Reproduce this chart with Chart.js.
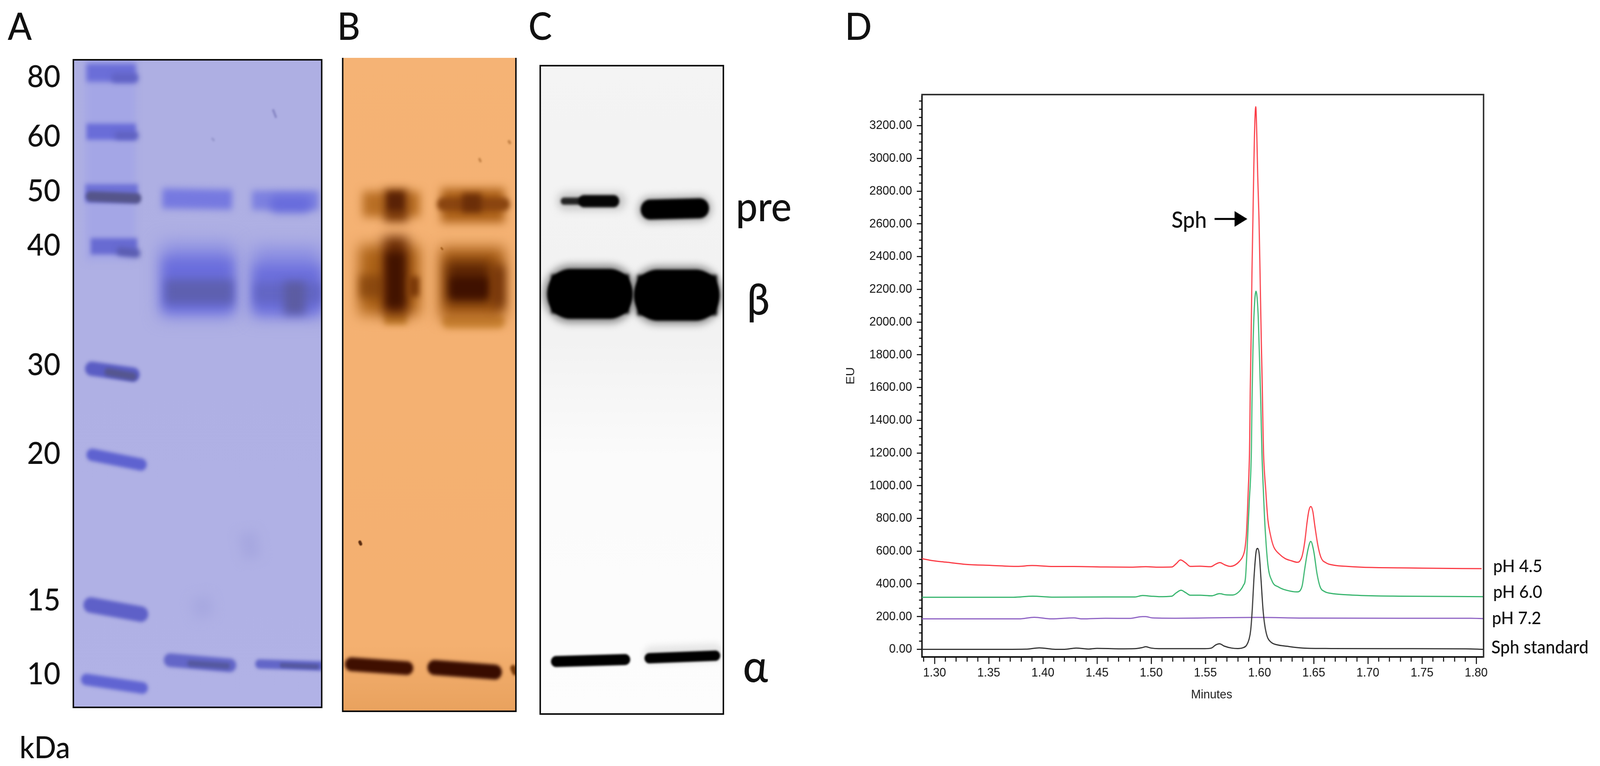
<!DOCTYPE html>
<html>
<head>
<meta charset="utf-8">
<script src="https://cdn.jsdelivr.net/npm/chart.js@4"></script>
<style>
  html, body { margin: 0; padding: 0; background: #fff; overflow: hidden; }
  #page { position: relative; width: 4342px; height: 1960px; overflow: hidden; background: #fff; transform-origin: 0 0; }
  canvas { position: absolute; }
  .t { position: absolute; line-height: 1; white-space: nowrap; color: #111; font-family: Lato, sans-serif; font-weight: 500; transform: translateY(-50%); }
  .big { font-size: 96px; }
  .mw { font-size: 78px; }
  .ph { font-size: 45px; }
</style>
</head>
<body>
<div id="page">
  <canvas id="gelA" style="left:0;top:0" width="900" height="1960"></canvas>
  <canvas id="gelB" style="left:926px;top:148px" width="478" height="1676"></canvas>
  <canvas id="gelC" style="left:1462px;top:164px" width="505" height="1667"></canvas>
  <canvas id="trace" style="left:2200px;top:0" width="2142" height="1960"></canvas>

  <div class="t big" style="left:21px;top:65px">A</div>
  <div class="t big" style="left:915px;top:65px">B</div>
  <div class="t big" style="left:1434px;top:65px">C</div>
  <div class="t big" style="left:2293px;top:65px">D</div>
  <div class="t mw" style="left:53px;top:1910px">kDa</div>
  <div class="t" style="left:1997px;top:525px;font-size:105px">pre</div>
  <div class="t" style="left:2027px;top:762px;font-size:110px">β</div>
  <div class="t" style="left:2016px;top:1700px;font-size:115px">α</div>
  <div class="t" style="left:3179px;top:561px;font-size:58px">Sph</div>
  <div class="t ph" style="left:4052px;top:1447px">pH 4.5</div>
  <div class="t ph" style="left:4052px;top:1513px">pH 6.0</div>
  <div class="t ph" style="left:4049px;top:1580px">pH 7.2</div>
  <div class="t ph" style="left:4047px;top:1655px;font-size:46px">Sph standard</div>
  <div class="t" style="left:3232px;top:1776px;font:32px 'Liberation Sans';color:#222">Minutes</div>
</div>

<script>
// the window can come up narrower than the picture, squeeze the page so nothing is cut off
const page = document.getElementById('page');
if (window.innerWidth < 4342) page.style.transform = 'scaleX(' + window.innerWidth / 4342 + ')';

// D - chromatogram
const ph45Minutes = [1.2884,1.298,1.3104,1.3295,1.352,1.3764,1.39,1.4094,1.4285,1.458,1.48,1.495,1.507,1.519,1.523,1.527,1.5316,1.536,1.545,1.555,1.5596,1.5634,1.5677,1.573,1.5776,1.5813,1.5846,1.5866,1.588,1.5896,1.5907,1.591,1.5914,1.5922,1.593,1.5939,1.5946,1.5953,1.5965,1.5975,1.5983,1.5995,1.6005,1.6016,1.6026,1.6032,1.6037,1.6057,1.6077,1.61,1.613,1.6183,1.6236,1.6296,1.6349,1.637,1.6394,1.6417,1.644,1.6455,1.6473,1.6492,1.651,1.6538,1.6568,1.6613,1.6688,1.681,1.7036,1.729,1.75,1.805];
const ph45EU = [554,542,533,519,513,507,512,506,506,503,502,505,502,503,523,546,529,507,508,505,521,530,517,507,516,537,569,619,720,975,1197,1341,1580,1898,2296,2630,2893,3132,3316,3132,2893,2630,2296,1898,1580,1341,1197,975,792,701,628,582,555,541,532,538,573,655,783,847,873,843,756,637,560,529,514,507,500,498,496,493];

const ph60Minutes = [1.2884,1.373,1.3906,1.41,1.458,1.485,1.492,1.4997,1.507,1.519,1.523,1.5276,1.5317,1.536,1.545,1.5556,1.563,1.569,1.5752,1.5813,1.585,1.587,1.5885,1.5905,1.5925,1.593,1.5939,1.595,1.5967,1.5986,1.5998,1.6012,1.6017,1.6024,1.6035,1.6047,1.6077,1.6115,1.6175,1.625,1.6349,1.6371,1.6394,1.6417,1.6447,1.6473,1.65,1.653,1.656,1.6598,1.6659,1.681,1.7036,1.729,1.8068];
const ph60EU = [318,318,325,319,320,320,329,325,322,325,345,361,347,331,331,327,340,333,332,354,390,436,610,900,1230,1500,1818,2058,2189,2058,1818,1500,1341,1158,975,792,518,418,381,361,351,356,390,491,610,660,601,464,381,354,342,333,327,325,322];

const ph72Minutes = [1.2884,1.378,1.392,1.408,1.4286,1.436,1.458,1.48,1.492,1.495,1.501,1.522,1.5526,1.598,1.643,1.729,1.795,1.8068];
const ph72EU = [186,186,196,186,192,186,190,189,200,200,192,190,192,195,191,190,190,188];

const standardMinutes = [1.2884,1.366,1.384,1.3967,1.4115,1.42,1.4306,1.4428,1.45,1.47,1.485,1.492,1.495,1.4997,1.507,1.5495,1.5556,1.5596,1.563,1.5677,1.574,1.58,1.5844,1.588,1.5903,1.5918,1.5933,1.5948,1.5967,1.5982,1.5997,1.6012,1.6032,1.6047,1.607,1.6107,1.616,1.625,1.64,1.666,1.729,1.79,1.8068];
const standardEU = [0,0,1,9,0,0,8,2,6,3,4,11,16,8,4,4,8,27,34,19,8,5,9,25,61,116,244,427,591,617,582,445,244,153,80,43,28,19,8,5,4,3,0];

const euTicks = [0,200,400,600,800,1000,1200,1400,1600,1800,2000,2200,2400,2600,2800,3000,3200];
const minuteTicks = [1.30,1.35,1.40,1.45,1.50,1.55,1.60,1.65,1.70,1.75,1.80];

const arrowMinutes = [1.5585,1.5809];
const arrowEU = [2630,2630];

// A-C - gels. band = [x start, y start, x end, y end, thickness], all in % of gel width / length
const kdaLabels = ['80','60','50','40','30','20','15','10'];
const kdaPositions = [2.7,11.9,20.3,28.7,47.2,60.9,83.5,94.9];

const gelABands = [
  [15,0,15,31,8.1],
  [5.3,2,25.2,2,2.8],
  [17,2.8,24.5,2.8,1.4],
  [5.3,11.1,25.2,11.1,2.5],
  [18,11.7,25,11.7,1.1],
  [4.8,20.6,26,20.6,2.8],
  [7,21.1,25.4,21.4,1.6],
  [7,28.8,25.7,28.8,2.5],
  [19,29.6,25.4,29.9,1.3],
  [7.4,47.7,24,48.6,2.2],
  [14,48.2,24,48.9,1.2],
  [7.6,61,27.2,62.5,1.9],
  [7,84.2,27.2,85.6,2.4],
  [5.3,95.7,27.8,97,1.8],
  [35.8,21.4,63.9,21.6,3.1],
  [71.9,21.7,98.7,21.7,3],
  [82,22.3,93,22.3,2.4],
  [35.1,34,64.9,34,11.1],
  [36,34.8,64.4,34.8,8.3],
  [37,35.8,64.4,35.8,3.8],
  [71.9,34.3,100,34.3,10.5],
  [72.5,35.5,100,35.5,7.5],
  [73,36,100,36,3.2],
  [84.8,36.8,93.4,36.8,5],
  [39,92.7,63,93.5,2.1],
  [47,93.2,62,93.6,0.9],
  [75,93.3,99.8,93.6,1.45],
  [84,93.5,98,93.7,0.7],
  [70,73,72,77,3],
  [51,83,53,86,3.2],
  [80.5,7.8,81.5,8.8,0.4],
  [56,12.2,56.5,12.4,0.4]
];
const gelAShades = ['#a4a6e6','#6b6ed8','#6163c4','#6a6dd8','#5f61bf','#6d70d6','#55558a','#686bd2','#5a5cb0','#5a5dc4','#55568f','#5e62d0','#5e60c8','#6064d2','#7679e0','#7d81e0','#676bdc','#8689e2','#6a6ddc','#5e60b0','#8689e2','#6c6fdc','#6366c4','#5c5ca2','#6366c8','#54589e','#6266c8','#55589f','#a7a8e0','#a7a8e0','#8c8cc8','#9a9bd0'];
const gelABlurs = [10,7,7,6,7,6,5,6,7,5,5,5,5,5,9,9,12,24,16,12,24,16,12,12,5,4,4,3,14,16,2,2];

const gelBBands = [
  [11.5,22.4,44.6,22.4,3.9],
  [24,22.6,37.5,22.6,4.9],
  [26,22,35,22,2.6],
  [56.8,22.6,93.5,22.6,5.2],
  [58,22.4,93,22.4,2],
  [69,22.2,80,22.2,2.8],
  [24,39.6,37,39.6,2.4],
  [61,40.4,90,40.4,2],
  [9.4,34,44.6,34,10.6],
  [10,35,24,35,3.5],
  [23.5,33.4,37.5,33.4,12],
  [25,34,35.5,34,8.5],
  [38,35,44,35,3],
  [56,34.5,93.5,34.5,11],
  [59.7,34.4,85.6,34.4,6.4],
  [62,35.2,84,35.2,3.2],
  [87,35,93.3,35,6.6],
  [5,92.8,37,93.4,2.1],
  [53,93.3,87.8,94,2.3],
  [98.5,93.4,99.5,94,1],
  [9.9,74.1,10.4,74.4,0.5],
  [79,15.5,79.5,15.8,0.4],
  [96,12.8,96.5,13,0.45],
  [57,29.1,57.6,29.3,0.3]
];
const gelBShades = ['#b96f25','#7a3a0c','#5a2206','#ab6018','#8a4510','#6b2e08','#c8822f','#d08a3a','#ad6318','#8c4a10','#6a2c06','#421300','#7a3808','#a65c15','#5a2404','#3f1100','#6a2c06','#3f0f00','#380c00','#7a3a08','#5a2c10','#c8864a','#c8864a','#a8621f'];
const gelBBlurs = [12,12,8,12,7,9,8,8,18,12,16,11,8,18,16,10,14,4,4,3,1,2,2,1];

const gelCBands = [
  [14,20.9,42,20.9,2.8],
  [13,20.9,22,20.9,1.1],
  [24,20.9,40,20.9,1.9],
  [60,22.2,87,22,4.2],
  [60,22.2,87,22,3.1],
  [16.6,35.2,37.7,35.2,9],
  [64.3,35.4,84.7,35.4,9],
  [16.6,35.2,37.7,35.2,7.7],
  [64.3,35.4,84.7,35.4,7.9],
  [6,35.2,48.5,35.2,6],
  [53,35.4,96.5,35.4,6.2],
  [61,90.9,95,90.5,2.8],
  [8.7,91.9,46.3,91.6,1.7],
  [59.6,91.4,95.6,91,1.6]
];
const gelCShades = ['#c8c8c8','#222222','#050505','#b8b8b8','#000000','#8a8a8a','#8a8a8a','#000000','#000000','#000000','#000000','#e6e6e6','#000000','#000000'];
const gelCBlurs = [10,3,3,9,3,10,10,3,3,4,4,8,2.5,2.5];
const gelCButt = [9,10];

const softEdge = {
  id: 'softEdge',
  beforeDatasetDraw(chart, args) {
    const blur = chart.data.datasets[args.index].blur;
    chart.ctx.save();
    if (blur) chart.ctx.filter = 'blur(' + blur + 'px)';
  },
  afterDatasetDraw(chart) {
    chart.ctx.restore();
  }
};
Chart.register(softEdge);

// background behind the datasets + frame on top, sides can be left out (gel B has no top line)
const panelFrame = {
  id: 'panelFrame',
  beforeDatasetsDraw(chart, args, opts) {
    const { ctx, chartArea: a } = chart;
    if (!opts.stops) return;
    const g = ctx.createLinearGradient(0, a.top, 0, a.bottom);
    opts.stops.forEach(s => g.addColorStop(s[0], s[1]));
    ctx.fillStyle = g;
    ctx.fillRect(a.left, a.top, a.width, a.height);
  },
  afterDraw(chart, args, opts) {
    const { ctx, chartArea: a } = chart;
    ctx.save();
    ctx.strokeStyle = opts.color;
    ctx.lineWidth = opts.width;
    const l = a.left, r = a.right, t = a.top, b = a.bottom;
    const seg = (x1, y1, x2, y2) => { ctx.beginPath(); ctx.moveTo(x1, y1); ctx.lineTo(x2, y2); ctx.stroke(); };
    if (opts.sides.includes('t')) seg(l - 2, t, r + 2, t);
    if (opts.sides.includes('b')) seg(l - 2, b, r + 2, b);
    if (opts.sides.includes('l')) seg(l, t - 2, l, b + 2);
    if (opts.sides.includes('r')) seg(r, t - 2, r, b + 2);
    ctx.restore();
  }
};

// chart.js paints the first dataset last, so order is set to keep the table's layering
function bandDatasets(bands, shades, blurs, roundBelow, gelPx, butt) {
  return bands.map((b, i) => ({
    data: [{ x: b[0], y: b[1] }, { x: b[2], y: b[3] }],
    showLine: true,
    pointRadius: 0,
    borderColor: shades[i],
    blur: blurs[i],
    borderWidth: b[4] * gelPx,
    borderCapStyle: b[4] < roundBelow && !butt.includes(i) ? 'round' : 'butt',
    order: bands.length - i,
    clip: 0
  }));
}

function makeGel(id, bands, shades, blurs, roundBelow, butt, stops, sides, padding, yAxis) {
  const canvas = document.getElementById(id);
  const gelPx = (canvas.height - padding.top - padding.bottom) / 100;
  return new Chart(canvas, {
    type: 'scatter',
    data: { datasets: bandDatasets(bands, shades, blurs, roundBelow, gelPx, butt) },
    options: {
      responsive: false,
      animation: false,
      devicePixelRatio: 1,
      layout: { padding, autoPadding: false },
      plugins: {
        legend: { display: false },
        tooltip: { enabled: false },
        panelFrame: { stops, sides, color: '#0a0a0a', width: 4 }
      },
      scales: {
        x: { type: 'linear', min: 0, max: 100, display: false },
        y: Object.assign({ type: 'linear', min: 0, max: 100, reverse: true, display: false }, yAxis)
      }
    },
    plugins: [panelFrame]
  });
}

makeGel('gelA', gelABands, gelAShades, gelABlurs, 2.45, [],
  [[0, '#aeafe3'], [1, '#b1b2e6']], 'tblr', { top: 153, right: 27, bottom: 150, left: 0 },
  {
    display: true,
    afterBuildTicks: s => { s.ticks = kdaPositions.map(v => ({ value: v })); },
    afterFit: s => { s.width = 199; },
    border: { display: false },
    grid: { display: false, drawTicks: false },
    ticks: {
      autoSkip: false,
      padding: 35,
      color: '#111',
      font: { family: 'Lato', size: 78, weight: '500' },
      callback: (v, i) => kdaLabels[i]
    }
  });

makeGel('gelB', gelBBands, gelBShades, gelBBlurs, 2.4, [],
  [[0, '#f5b375'], [0.9, '#f4b070'], [1, '#e9a25e']], 'blr', { top: 0, right: 4, bottom: 4, left: 4 }, {});

makeGel('gelC', gelCBands, gelCShades, gelCBlurs, 100, gelCButt,
  [[0, '#f4f4f4'], [0.42, '#f2f2f2'], [0.6, '#fbfbfb'], [1, '#fdfdfd']], 'tblr', { top: 4, right: 4, bottom: 4, left: 4 }, {});

function trace(minutes, eu, color) {
  return {
    data: minutes.map((m, i) => ({ x: m, y: eu[i] })),
    showLine: true,
    pointRadius: 0,
    borderColor: color,
    borderWidth: 3,
    cubicInterpolationMode: 'monotone',
    blur: 0.5,
    clip: 0
  };
}

const frameBorder = { display: true, color: '#111', width: 4 };
const tickFont = { family: 'Liberation Sans', size: 32 };

new Chart(document.getElementById('trace'), {
  type: 'scatter',
  data: {
    datasets: [
      trace(standardMinutes, standardEU, '#333333'),
      trace(ph72Minutes, ph72EU, '#8f63c4'),
      trace(ph60Minutes, ph60EU, '#35b46c'),
      trace(ph45Minutes, ph45EU, '#fb3a44'),
      {
        data: arrowMinutes.map((m, i) => ({ x: m, y: arrowEU[i] })),
        showLine: true,
        borderColor: '#000',
        backgroundColor: '#000',
        borderWidth: 5,
        pointStyle: 'triangle',
        pointRotation: 90,
        pointRadius: [0, 23],
        pointBorderWidth: 0,
        clip: 0
      }
    ]
  },
  options: {
    responsive: false,
    animation: false,
    devicePixelRatio: 1,
    layout: { padding: { top: 242, right: 316, bottom: 0, left: 0 }, autoPadding: false },
    plugins: {
      legend: { display: false },
      tooltip: { enabled: false },
      panelFrame: { sides: 'tr', color: '#333', width: 4 }
    },
    scales: {
      x: {
        type: 'linear',
        min: 1.2884,
        max: 1.8068,
        afterBuildTicks: s => { s.ticks = minuteTicks.map(v => ({ value: v })); },
        afterFit: s => { s.height = 279; },
        border: frameBorder,
        grid: { drawOnChartArea: false, tickLength: 18, tickWidth: 3, tickColor: '#222' },
        ticks: { autoSkip: false, maxRotation: 0, padding: 4, color: '#111', font: tickFont, callback: v => v.toFixed(2) }
      },
      xMinor: {
        type: 'linear',
        axis: 'x',
        position: 'bottom',
        weight: -1,
        min: 1.2884,
        max: 1.8068,
        afterFit: s => { s.height = 0; },
        border: { display: false },
        grid: { drawOnChartArea: false, tickLength: 12, tickWidth: 3, tickColor: '#222' },
        ticks: { stepSize: 0.01, includeBounds: false, autoSkip: false, display: false }
      },
      y: {
        type: 'linear',
        min: -46.6,
        max: 3390,
        afterBuildTicks: s => { s.ticks = euTicks.map(v => ({ value: v })); },
        afterFit: s => { s.width = 302; },
        border: frameBorder,
        grid: { drawOnChartArea: false, tickLength: 14, tickWidth: 3, tickColor: '#222' },
        title: { display: true, text: 'EU', color: '#222', font: tickFont, padding: { top: 90, bottom: 0 } },
        ticks: { autoSkip: false, padding: 13, color: '#111', font: tickFont, callback: v => v.toFixed(2) }
      },
      yMinor: {
        type: 'linear',
        axis: 'y',
        position: 'left',
        weight: -1,
        min: -46.6,
        max: 3390,
        afterFit: s => { s.width = 0; },
        border: { display: false },
        grid: { drawOnChartArea: false, tickLength: 8, tickWidth: 3, tickColor: '#222' },
        ticks: { stepSize: 50, includeBounds: false, autoSkip: false, display: false }
      }
    }
  },
  plugins: [panelFrame]
});
</script>
</body>
</html>
